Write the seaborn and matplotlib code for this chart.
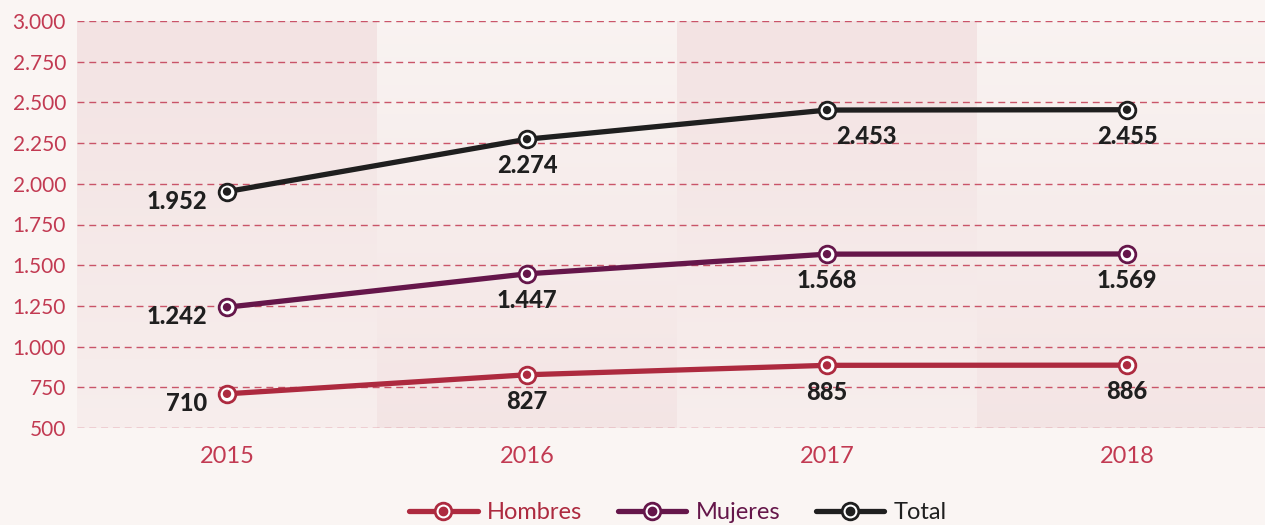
import numpy as np
import pandas as pd
import matplotlib.pyplot as plt
import seaborn as sns
from matplotlib.lines import Line2D

# ------------------------
# Data
# ------------------------
years = ["2015", "2016", "2017", "2018"]
hombres = [710, 827, 885, 886]
mujeres = [1242, 1447, 1568, 1569]
total = [1952, 2274, 2453, 2455]
series = ["Hombres", "Mujeres", "Total"]
y_ticks = [500, 750, 1000, 1250, 1500, 1750, 2000, 2250, 2500, 2750, 3000]

colors = {"Hombres": "#ad2a3f", "Mujeres": "#65164a", "Total": "#1f1f1f"}
bg = "#faf5f3"
tick_col = "#c23a52"

df = pd.DataFrame({
    "pos": list(range(len(years))) * 3,
    "valor": hombres + mujeres + total,
    "serie": [s for s in series for _ in years],
})

sns.set_theme(style="white")
plt.rcParams["font.family"] = ["Lato", "DejaVu Sans"]

fig = plt.figure(figsize=(12.65, 5.25), dpi=100, facecolor=bg)
ax = fig.add_axes([77 / 1265, 97 / 525, 1188 / 1265, 407 / 525])
ax.set_facecolor(bg)
ax.set_xlim(-0.5, 3.46)
ax.set_ylim(500, 3000)

# ------------------------
# Background bands (gradient)
# ------------------------
c_bg = np.array([250, 245, 243]) / 255
c_dk = np.array([243, 227, 227]) / 255
for i in range(len(years)):
    t = np.linspace(0, 1, 100)[:, None]
    if i % 2 == 0:
        w = 1 - 0.6 * t   # darker at top
    else:
        w = 0.1 + 0.8 * t  # darker at bottom
    img = c_bg + (c_dk - c_bg) * w[:, :, None]
    img = np.repeat(img, 2, axis=1)
    ax.imshow(img, extent=(i - 0.5, i + 0.5, 500, 3000), origin="upper",
              aspect="auto", zorder=0)

# ------------------------
# Grid
# ------------------------
for y in y_ticks:
    ax.axhline(y, color=tick_col, lw=1.0, ls=(0, (5, 3.5)), alpha=0.85, zorder=1)

# ------------------------
# Lines
# ------------------------
sns.lineplot(data=df, x="pos", y="valor", hue="serie", palette=colors,
             lw=3.8, marker="o", markersize=12, markerfacecolor="white",
             markeredgewidth=2.0, legend=False, ax=ax, zorder=3)
for line in ax.lines[-3:]:
    line.set_markeredgecolor(line.get_color())
sns.scatterplot(data=df, x="pos", y="valor", hue="serie", palette=colors,
                s=36, edgecolor="none", legend=False, ax=ax, zorder=4)

# ------------------------
# Value labels
# ------------------------
def fmt(v):
    return f"{v:,}".replace(",", ".")

lab_kw = dict(fontsize=17, fontweight="black", color="#1f1f1f", zorder=5)
for k, vals in enumerate([hombres, mujeres, total]):
    for i, v in enumerate(vals):
        if i == 0:
            ax.annotate(fmt(v), (i, v), xytext=(-14, -7), textcoords="offset points",
                        ha="right", va="center", **lab_kw)
        else:
            dx = 28 if (k == 2 and i == 2) else 0
            ax.annotate(fmt(v), (i, v), xytext=(dx, -11), textcoords="offset points",
                        ha="center", va="top", **lab_kw)

# ------------------------
# Axes styling
# ------------------------
ax.set_xticks(range(len(years)))
ax.set_xticklabels(years)
ax.set_yticks(y_ticks)
ax.set_yticklabels([fmt(v) for v in y_ticks])
ax.tick_params(axis="y", labelsize=15, colors=tick_col, length=0, pad=8)
ax.tick_params(axis="x", labelsize=17, colors=tick_col, length=0, pad=13)
ax.set_xlabel("")
ax.set_ylabel("")
for sp in ax.spines.values():
    sp.set_visible(False)

# ------------------------
# Legend
# ------------------------
handles = []
for s in series:
    ring = Line2D([], [], color=colors[s], lw=3.8, marker="o", markersize=12,
                  markerfacecolor="white", markeredgecolor=colors[s], markeredgewidth=2.0)
    dot = Line2D([], [], color=colors[s], lw=0, marker="o", markersize=6)
    handles.append((ring, dot))
leg = fig.legend(handles, series, loc="center", bbox_to_anchor=(0.536, 0.024),
                 ncol=3, frameon=False, fontsize=17, handlelength=2.9,
                 columnspacing=1.5, handletextpad=0.4)
for txt, s in zip(leg.get_texts(), series):
    txt.set_color(colors[s])

fig.savefig("out.png", dpi=100, facecolor=bg)
